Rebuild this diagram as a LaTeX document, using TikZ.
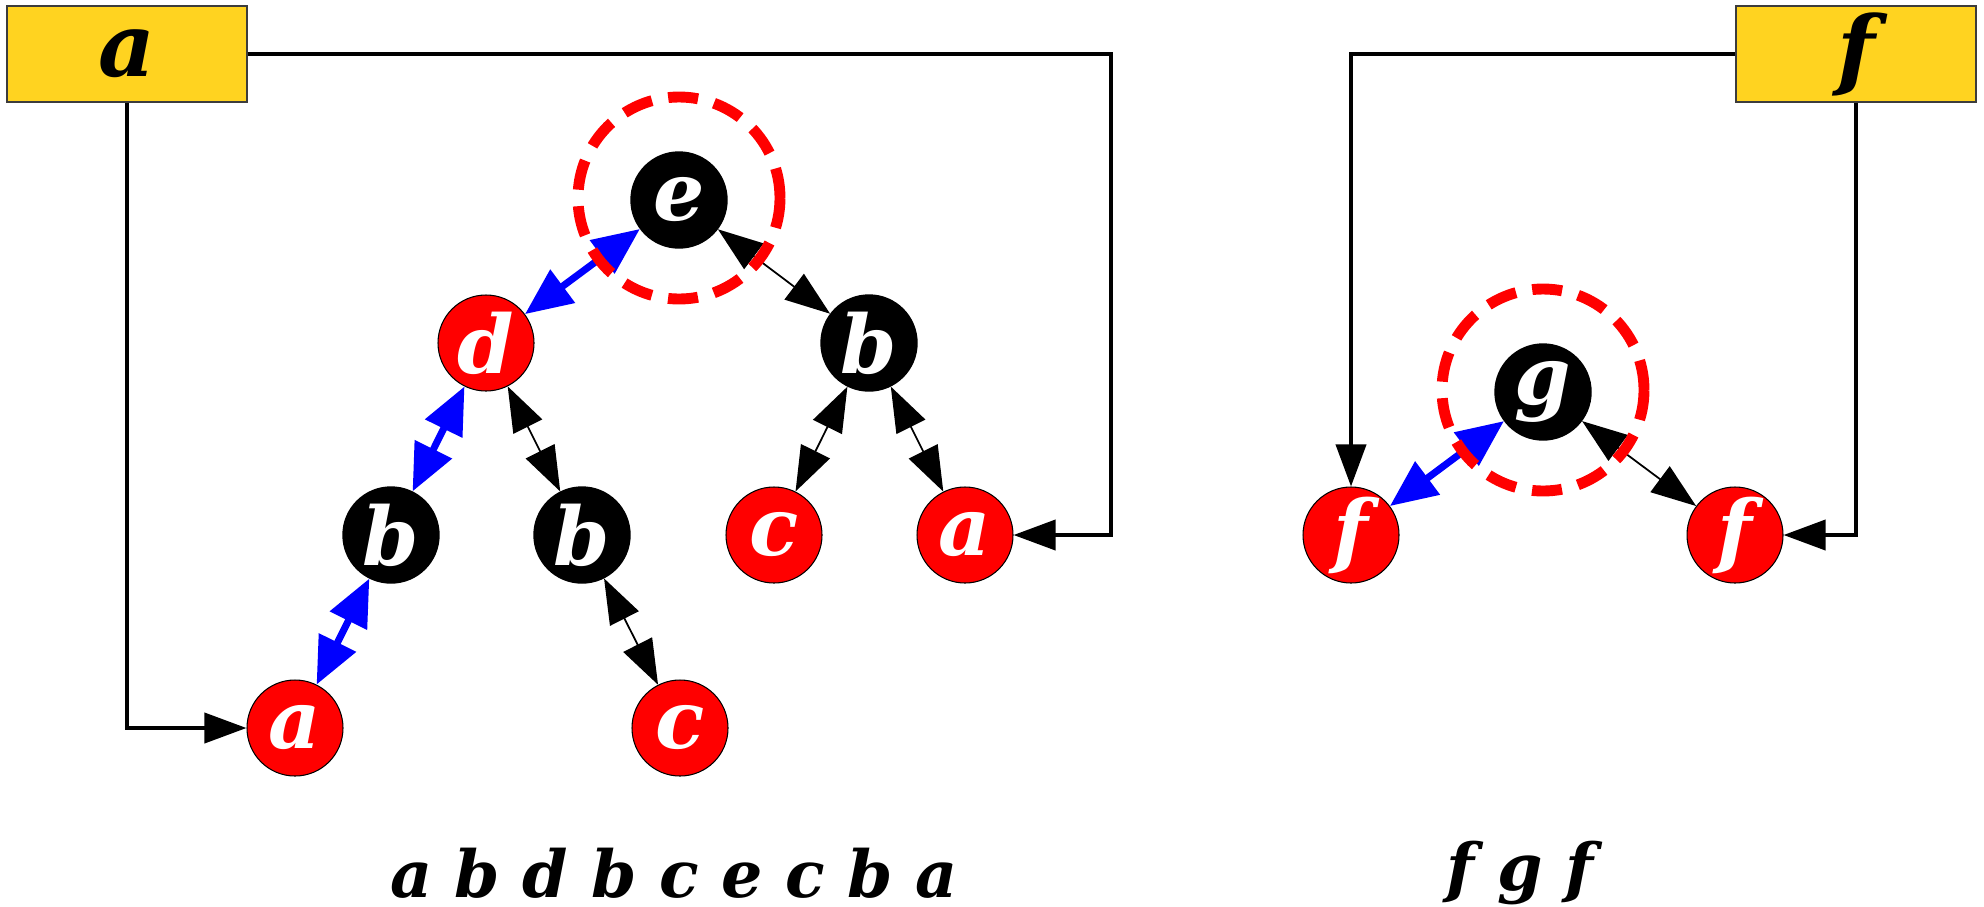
\documentclass[tikz,border=0pt]{standalone}
\usepackage{fontspec}
\setmainfont{DejaVu Serif}
\usepackage{tikz}
\usetikzlibrary{arrows.meta, positioning, calc}
\definecolor{keyyellow}{RGB}{255,211,32}
\definecolor{keyborder}{RGB}{60,60,60}
\definecolor{nodered}{RGB}{255,0,0}
\definecolor{pathblue}{RGB}{0,0,255}
\tikzset{
  keybox/.style={rectangle,draw=keyborder,line width=0.4pt,fill=keyyellow,minimum width=2.40cm,minimum height=0.96cm,inner sep=0pt,font=\fontsize{25}{28}\selectfont\bfseries\itshape},
  treenode/.style={circle,inner sep=0pt,minimum size=0.96cm,text=white,font=\fontsize{23}{26}\selectfont\bfseries\itshape},
  rednode/.style={treenode,fill=nodered,draw=black,line width=0.3pt},
  blacknode/.style={treenode,fill=black,draw=black},
  ring/.style={circle,draw=nodered,line width=3.1pt,dash pattern=on 0.3cm off 0.165cm,minimum size=2.02cm,inner sep=0pt},
  walktext/.style={font=\fontsize{18.5}{22}\selectfont\bfseries\itshape},
  conn/.style={-{Triangle[length=0.42cm,width=0.3cm]},line width=1.1pt,color=black},
  bluearr/.style={{Triangle[length=0.47cm,width=0.40cm]}-{Triangle[length=0.47cm,width=0.40cm]},line width=2pt,color=pathblue},
  thinarr/.style={{Triangle[length=0.45cm,width=0.32cm]}-{Triangle[length=0.45cm,width=0.32cm]},line width=0.5pt,color=black}
}

\begin{document}
\begin{tikzpicture}
  \useasboundingbox (0,0) rectangle (19.84,-9.06);

  %% Key boxes
  \node[keybox] (boxA) at (1.27,-0.54) {a};
  \node[keybox] (boxF) at (18.56,-0.54) {f};

  %% Left tree
  \node[blacknode] (e)  at (6.79,-2.00) {e};
  \node[rednode]   (d)  at (4.86,-3.43) {d};
  \node[blacknode] (b1) at (8.69,-3.43) {b};
  \node[blacknode] (b2) at (3.91,-5.35) {b};
  \node[blacknode] (b3) at (5.82,-5.35) {b};
  \node[rednode]   (c1) at (7.74,-5.35) {c};
  \node[rednode]   (a1) at (9.65,-5.35) {a};
  \node[rednode]   (a2) at (2.95,-7.28) {a};
  \node[rednode]   (c2) at (6.80,-7.28) {c};

  %% Right tree
  \node[blacknode] (g)  at (15.43,-3.92) {g};
  \node[rednode]   (f1) at (13.51,-5.35) {f};
  \node[rednode]   (f2) at (17.35,-5.35) {f};

  %% Walk texts
  \node[walktext] (walkL) at (6.74,-8.73) {a b d b c e c b a};
  \node[walktext] (walkR) at (15.20,-8.73) {f g f};

  %% ── ARROWS ──────────────────────────────────────────────
  %% tree edges
  \draw[bluearr] (e) -- (d);
  \draw[bluearr] (d) -- (b2);
  \draw[bluearr] (b2) -- (a2);
  \draw[thinarr] (e) -- (b1);
  \draw[thinarr] (d) -- (b3);
  \draw[thinarr] (b1) -- (c1);
  \draw[thinarr] (b1) -- (a1);
  \draw[thinarr] (b3) -- (c2);
  \draw[bluearr] (g) -- (f1);
  \draw[thinarr] (g) -- (f2);

  %% key boxes -> leaves
  \coordinate (aTurn) at (11.11,-0.54);
  \draw[conn] (boxA.east) -- (aTurn) |- (a1.east);
  \draw[conn] (boxA.south) |- (a2.west);
  \draw[conn] (boxF.west) -| (f1.north);
  \draw[conn] (boxF.south) |- (f2.east);

  %% Rings
  \node[ring] (eRing) at (6.79,-1.98) {};
  \node[ring] (gRing) at (15.43,-3.90) {};

\end{tikzpicture}
\end{document}
